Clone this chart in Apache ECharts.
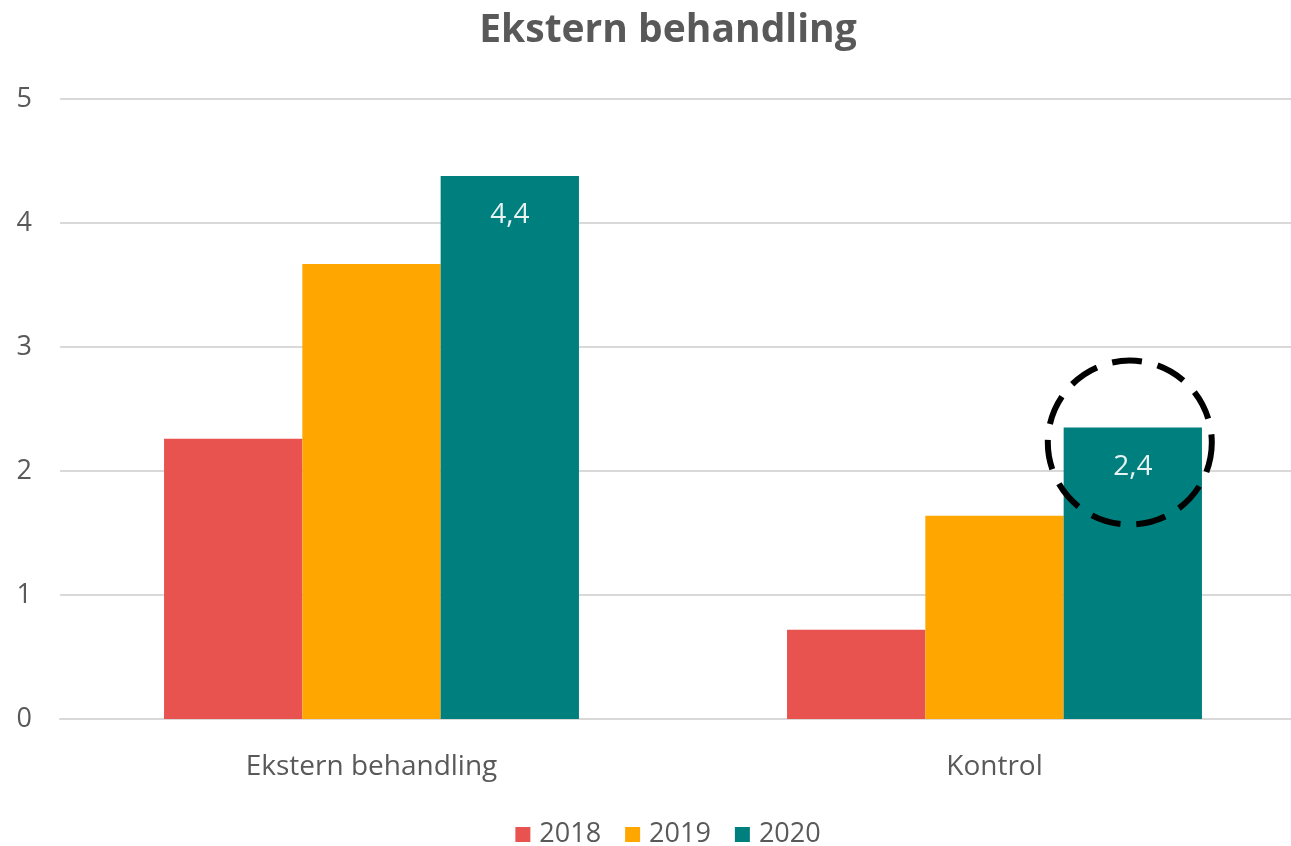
<!DOCTYPE html>
<html>
<head>
<meta charset="utf-8">
<script src="https://cdn.jsdelivr.net/npm/echarts@6/dist/echarts.min.js"></script>
<style>
html,body{margin:0;padding:0;background:#fff;overflow:hidden;}
#wrap{width:1291px;height:846px;overflow:hidden;}
#chart{width:1336px;height:846px;}
</style>
</head>
<body>
<div id="wrap"><div id="chart"></div></div>
<script>
const titleText = 'Ekstern behandling';
const categories = ['Ekstern behandling', 'Kontrol'];
const seriesNames = ['2018', '2019', '2020'];
const values2018 = [2.26, 0.72];
const values2019 = [3.67, 1.64];
const values2020 = [4.38, 2.35];
const labels2020 = ['4,4', '2,4'];
const yTicks = [0, 1, 2, 3, 4, 5];
const colors = ['#E8524F', '#FFA600', '#007F7F'];
const highlightIndex = 1;

const font = '"Open Sans", "Noto Sans", sans-serif';
const chart = echarts.init(document.getElementById('chart'));

const option = {
  animation: false,
  backgroundColor: '#ffffff',
  title: {
    text: titleText,
    left: 'center',
    top: 6,
    textStyle: { fontFamily: font, fontSize: 39, fontWeight: 'bold', color: '#595959' }
  },
  legend: {
    bottom: -7,
    left: 'center',
    itemWidth: 15,
    itemHeight: 15,
    itemGap: 24,
    icon: 'rect',
    textStyle: { fontFamily: font, fontSize: 27, color: '#595959', padding: [0, 0, 0, 4] },
    data: seriesNames
  },
  grid: { left: 60, top: 99, width: 1246, height: 620, containLabel: false },
  xAxis: {
    type: 'category',
    data: categories,
    axisLine: { show: true, lineStyle: { color: '#D9D9D9', width: 2 } },
    axisTick: { show: false },
    axisLabel: { fontFamily: font, fontSize: 28, color: '#595959', margin: 34 }
  },
  yAxis: {
    type: 'value',
    min: yTicks[0],
    max: yTicks[yTicks.length - 1],
    interval: 1,
    axisLine: { show: false },
    axisTick: { show: false },
    axisLabel: { fontFamily: font, fontSize: 27, color: '#595959', margin: 28 },
    splitLine: { lineStyle: { color: '#D9D9D9', width: 2 } }
  },
  series: [
    { name: seriesNames[0], type: 'bar', data: values2018, barGap: '0%', barCategoryGap: '33.4%', itemStyle: { color: colors[0] } },
    { name: seriesNames[1], type: 'bar', data: values2019, barGap: '0%', barCategoryGap: '33.4%', itemStyle: { color: colors[1] } },
    { name: seriesNames[2], type: 'bar', data: values2020, barGap: '0%', barCategoryGap: '33.4%', itemStyle: { color: colors[2] },
      label: {
        show: true, position: 'insideTop', distance: 25,
        fontFamily: font, fontSize: 28, color: '#E8F2F2',
        formatter: p => labels2020[p.dataIndex]
      }
    }
  ]
};
chart.setOption(option);

let cx, cy;
try {
  const lay = chart.getModel().getSeriesByIndex(2).getData().getItemLayout(highlightIndex);
  cx = lay.x + lay.width / 2;
  cy = Math.min(lay.y, lay.y + lay.height);
} catch (e) {
  const pt = chart.convertToPixel({ seriesIndex: 2 }, [highlightIndex, values2020[highlightIndex]]);
  cx = pt[0] + 138; cy = pt[1];
}
chart.setOption({
  graphic: [{
    type: 'circle',
    shape: { cx: cx - 3, cy: cy + 15, r: 82 },
    style: { fill: 'none', stroke: '#000', lineWidth: 6, lineDash: [30, 16] },
    z: 100
  }]
});
</script>
</body>
</html>
